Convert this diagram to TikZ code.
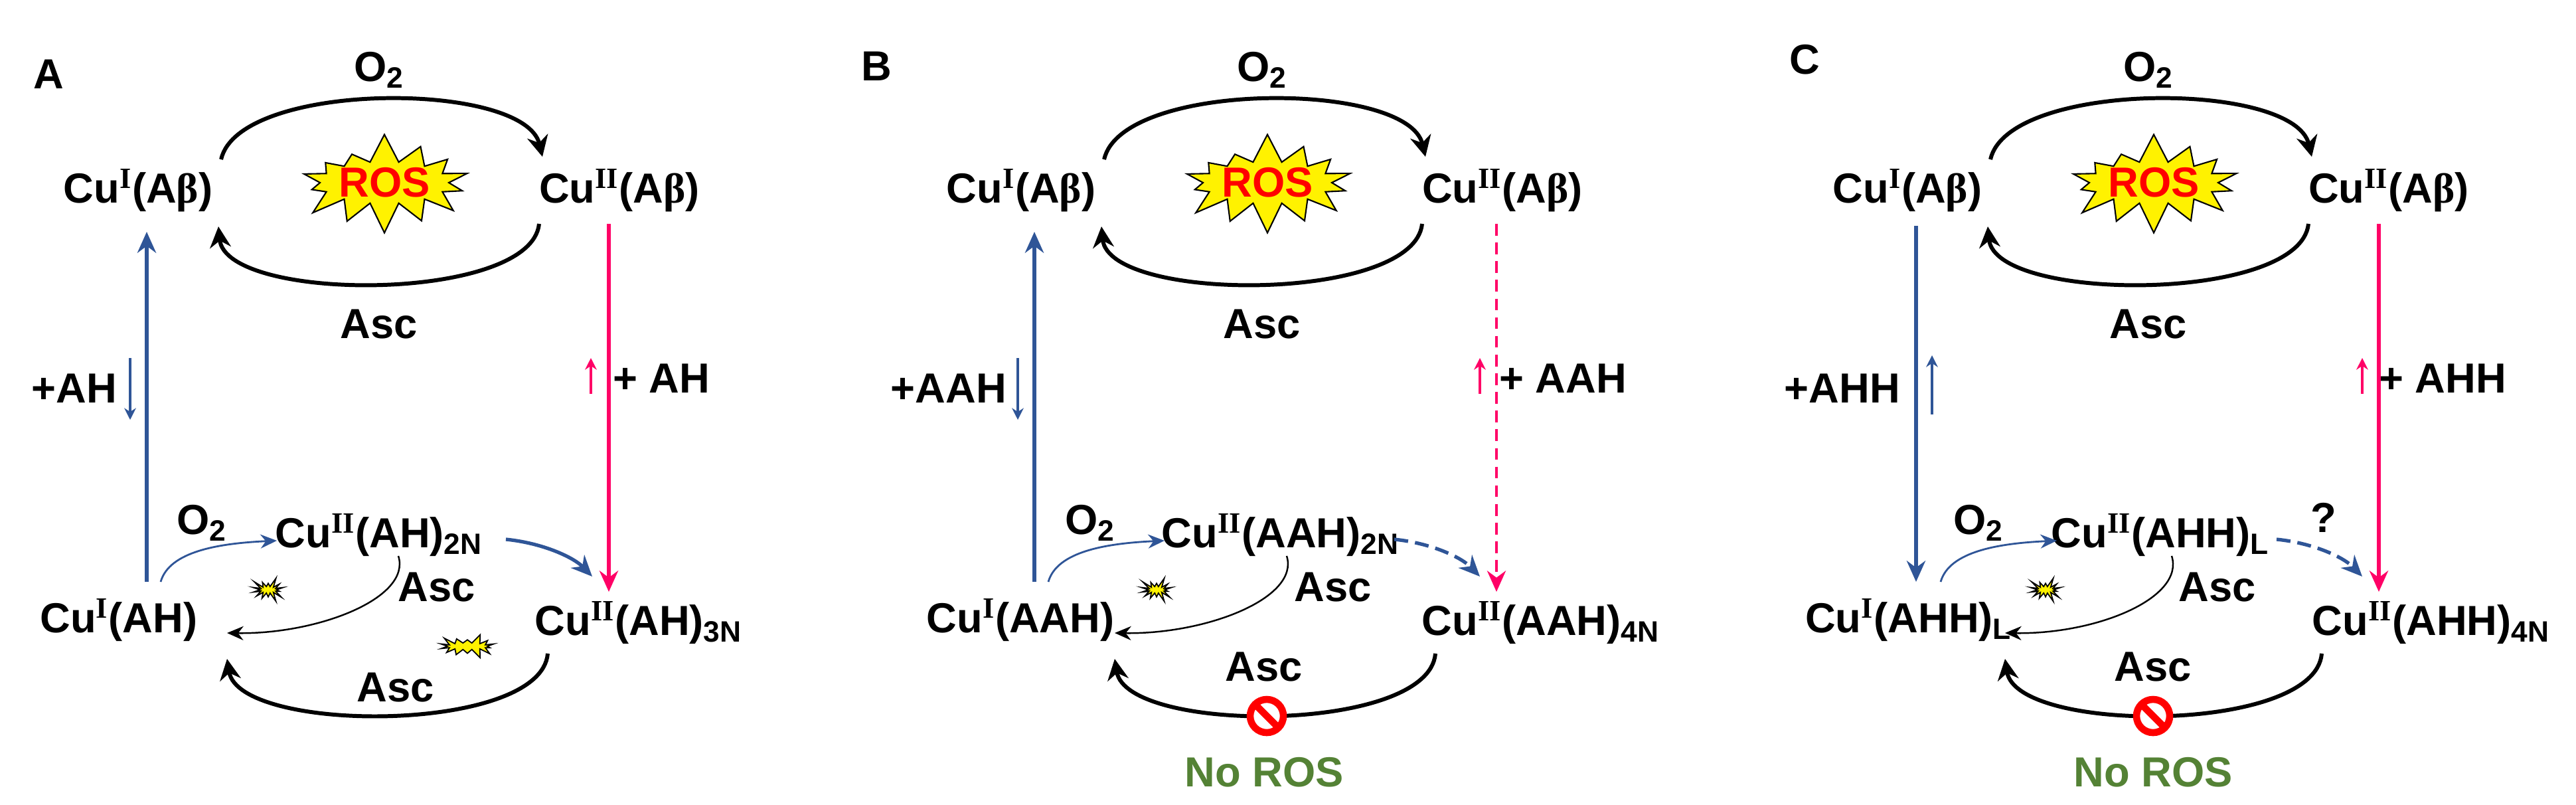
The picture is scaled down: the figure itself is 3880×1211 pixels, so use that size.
\documentclass[tikz,border=0pt]{standalone}
\usepackage{fontspec}
\setmainfont{Liberation Sans}
\newfontfamily\serifR{Liberation Serif}
\usetikzlibrary{arrows.meta,shapes.symbols}
\definecolor{cblue}{HTML}{2F5597}
\definecolor{cpink}{HTML}{FF0066}
\definecolor{cgreen}{HTML}{548235}
\newcommand\sI{\textsuperscript{\serifR\bfseries I}}
\newcommand\sII{\textsuperscript{\serifR\bfseries II}}
\newcommand\bet{{\serifR β}}
\tikzset{
 lab/.style={font=\bfseries\fontsize{18}{20}\selectfont, inner sep=1pt},
 bk/.style={line width=1.7pt, -{Stealth[length=9pt,width=9pt]}},
 thin/.style={line width=0.7pt, -{Stealth[length=7pt,width=6pt]}},
 bl/.style={cblue, line width=1.5pt, -{Stealth[length=9pt,width=8pt]}},
 blthin/.style={cblue, line width=0.8pt, -{Stealth[length=7pt,width=6pt]}},
 pk/.style={cpink, line width=1.5pt, -{Stealth[length=9pt,width=8pt]}},
 pkthin/.style={cpink, line width=0.9pt, -{Stealth[length=5pt,width=5pt]}},
 blsmall/.style={cblue, line width=0.9pt, -{Stealth[length=5pt,width=5pt]}},
 bigstar/.style={starburst, starburst points=14, starburst point height=0.45cm, random starburst=7, fill=yellow, draw=black, line width=0.6pt, minimum width=1.9cm, minimum height=1.1cm, inner sep=0pt},
 smallstar/.style={starburst, starburst points=14, starburst point height=0.15cm, random starburst=3, fill=yellow, draw=black, line width=0.5pt, minimum width=#1, minimum height=0.4cm, inner sep=0pt},
 noentry/.style={circle, draw=red, fill=white, line width=3pt, minimum size=0.5cm, inner sep=0pt,
   path picture={\draw[red, line width=3pt] (path picture bounding box.north west) -- (path picture bounding box.south east);}}
}
\newcommand\toppart[1]{%
 \node[lab] (#1cuI) at (208,287) {Cu\sI(A\bet)};
 \node[lab] (#1cuII) at (933,287) {Cu\sII(A\bet)};
 \node[lab] (#1o2) at (571,105) {O\textsubscript{2}};
 \node[lab] (#1asc) at (571,488) {Asc};
 \node[bigstar, font=\bfseries\fontsize{18}{20}\selectfont, text=red] (#1ros) at (579,275) {ROS};
 \coordinate (#1t1) at (333,240); \coordinate (#1t2) at (817,236);
 \coordinate (#1b1) at (812,337); \coordinate (#1b2) at (329,341);
 \draw[bk] (#1t1) .. controls (360,121) and (790,121) .. (#1t2);
 \draw[bk] (#1b1) .. controls (800,456) and (340,456) .. (#1b2);
}
\begin{document}
\begin{tikzpicture}[x=0.01cm,y=-0.01cm]
\useasboundingbox (0,0) rectangle (3880,1211);
% ---------- Panel A ----------
\begin{scope}
\node[lab] (aL) at (73,112) {A};
\toppart{a}
\node[lab] (acuIAH) at (179,934) {Cu\sI(AH)};
\node[lab] (acu2N) at (571,806) {Cu\sII(AH)\textsubscript{2N}};
\node[lab] (acu3N) at (962,938) {Cu\sII(AH)\textsubscript{3N}};
\node[lab] (ao2b) at (304,787) {O\textsubscript{2}};
\node[lab] (aasc2) at (658,884) {Asc};
\node[lab] (aasc3) at (596,1035) {Asc};
\node[lab] (aplus) at (112,585) {+AH};
\node[lab] (aplus2) at (996,570) {+ AH};
\node[smallstar=0.55cm] (as1) at (404,888) {};
\node[smallstar=0.9cm] (as2) at (704,973) {};
\coordinate (abl1) at (221,876); \coordinate (abl2) at (221,349);
\draw[bl] (abl1) -- (abl2);
\coordinate (asb1) at (196,539); \coordinate (asb2) at (196,632);
\draw[blsmall] (asb1) -- (asb2);
\coordinate (apk1) at (917,337); \coordinate (apk2) at (917,891);
\draw[pk] (apk1) -- (apk2);
\coordinate (asp1) at (890,593); \coordinate (asp2) at (890,539);
\draw[pkthin] (asp1) -- (asp2);
\coordinate (ao1) at (242,876); \coordinate (ao2e) at (417,814);
\draw[blthin] (ao1) .. controls (255,830) and (330,818) .. (ao2e);
\coordinate (ad1) at (762,812); \coordinate (ad2) at (892,868);
\draw[bl] (ad1) .. controls (820,818) and (865,840) .. (ad2);
\coordinate (aa1) at (600,837); \coordinate (aa2) at (342,953);
\draw[thin] (aa1) .. controls (620,900) and (480,955) .. (aa2);
\coordinate (ac1) at (825,984); \coordinate (ac2) at (342,992);
\draw[bk] (ac1) .. controls (815,1105) and (360,1105) .. (ac2);
\end{scope}
% ---------- Panel B ----------
\begin{scope}[shift={(1330,0)}]
\node[lab] (bL) at (-10,100) {B};
\toppart{b}
\node[lab] (bcuIAH) at (207,934) {Cu\sI(AAH)};
\node[lab] (bcu2N) at (599,806) {Cu\sII(AAH)\textsubscript{2N}};
\node[lab] (bcu4N) at (991,938) {Cu\sII(AAH)\textsubscript{4N}};
\node[lab] (bo2b) at (312,787) {O\textsubscript{2}};
\node[lab] (basc2) at (678,884) {Asc};
\node[lab] (basc3) at (574,1004) {Asc};
\node[lab] (bplus) at (99,585) {+AAH};
\node[lab] (bplus2) at (1024,570) {+ AAH};
\node[lab, text=cgreen] (bno) at (574,1163) {No ROS};
\node[smallstar=0.55cm] (bs1) at (412,888) {};
\coordinate (bbl1) at (228,876); \coordinate (bbl2) at (228,349);
\draw[bl] (bbl1) -- (bbl2);
\coordinate (bsb1) at (203,539); \coordinate (bsb2) at (203,632);
\draw[blsmall] (bsb1) -- (bsb2);
\coordinate (bpk1) at (924,337); \coordinate (bpk2) at (924,891);
\draw[pk, line width=1.2pt, dash pattern=on 5pt off 3pt] (bpk1) -- (bpk2);
\coordinate (bsp1) at (899,593); \coordinate (bsp2) at (899,539);
\draw[pkthin] (bsp1) -- (bsp2);
\coordinate (bo1) at (249,876); \coordinate (bo2e) at (424,814);
\draw[blthin] (bo1) .. controls (262,830) and (337,818) .. (bo2e);
\coordinate (bd1) at (770,812); \coordinate (bd2) at (899,868);
\draw[bl, dash pattern=on 6pt off 3pt] (bd1) .. controls (828,818) and (872,840) .. (bd2);
\coordinate (ba1) at (608,837); \coordinate (ba2) at (349,953);
\draw[thin] (ba1) .. controls (628,900) and (488,955) .. (ba2);
\coordinate (bc1) at (832,984); \coordinate (bc2) at (349,992);
\draw[bk] (bc1) .. controls (822,1105) and (367,1105) .. (bc2);
\node[noentry] (bne) at (578,1078) {};
\end{scope}
% ---------- Panel C ----------
\begin{scope}[shift={(2665,0)}]
\node[lab] (cL) at (53,90) {C};
\toppart{c}
\node[lab] (ccuIAH) at (210,934) {Cu\sI(AHH)\textsubscript{L}};
\node[lab] (ccuL) at (589,806) {Cu\sII(AHH)\textsubscript{L}};
\node[lab] (ccu4N) at (997,938) {Cu\sII(AHH)\textsubscript{4N}};
\node[lab] (co2b) at (315,787) {O\textsubscript{2}};
\node[lab] (casc2) at (675,884) {Asc};
\node[lab] (casc3) at (578,1004) {Asc};
\node[lab] (cplus) at (110,585) {+AHH};
\node[lab] (cplus2) at (1014,570) {+ AHH};
\node[lab] (cq) at (835,779) {?};
\node[lab, text=cgreen] (cno) at (578,1163) {No ROS};
\node[smallstar=0.55cm] (cs1) at (416,888) {};
\coordinate (cbl1) at (221,340); \coordinate (cbl2) at (221,876);
\draw[bl] (cbl1) -- (cbl2);
\coordinate (csb1) at (245,624); \coordinate (csb2) at (245,535);
\draw[blsmall] (csb1) -- (csb2);
\coordinate (cpk1) at (918,337); \coordinate (cpk2) at (918,891);
\draw[pk] (cpk1) -- (cpk2);
\coordinate (csp1) at (893,593); \coordinate (csp2) at (893,539);
\draw[pkthin] (csp1) -- (csp2);
\coordinate (co1) at (258,876); \coordinate (co2e) at (433,814);
\draw[blthin] (co1) .. controls (271,830) and (346,818) .. (co2e);
\coordinate (cd1) at (764,812); \coordinate (cd2) at (893,868);
\draw[bl, dash pattern=on 6pt off 3pt] (cd1) .. controls (822,818) and (866,840) .. (cd2);
\coordinate (ca1) at (606,837); \coordinate (ca2) at (355,953);
\draw[thin] (ca1) .. controls (626,900) and (494,955) .. (ca2);
\coordinate (cc1) at (832,984); \coordinate (cc2) at (355,992);
\draw[bk] (cc1) .. controls (822,1105) and (372,1105) .. (cc2);
\node[noentry] (cne) at (578,1078) {};
\end{scope}
\end{tikzpicture}
\end{document}
